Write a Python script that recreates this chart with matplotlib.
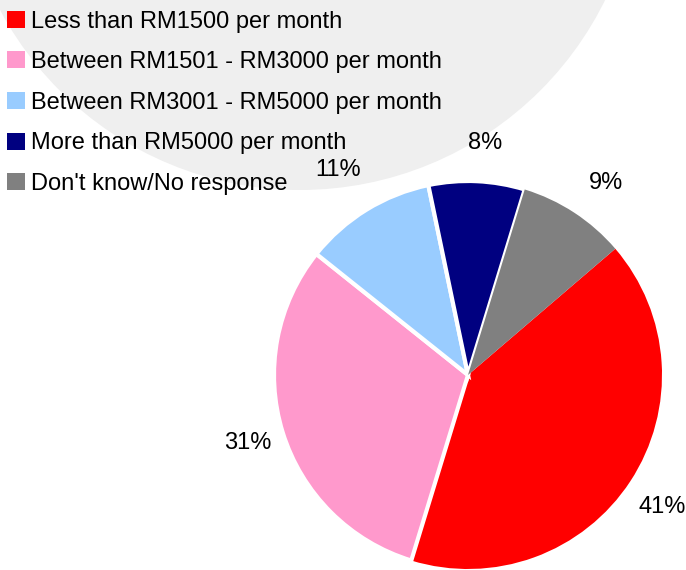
import matplotlib
matplotlib.use("Agg")
import matplotlib.pyplot as plt
import numpy as np
from matplotlib.patches import Circle, Patch

plt.rcParams['font.family'] = ['Liberation Sans', 'DejaVu Sans']

# данные
labels = ['Less than RM1500 per month',
          'Between RM1501 - RM3000 per month',
          'Between RM3001 - RM5000 per month',
          'More than RM5000 per month',
          "Don't know/No response"]
shares = [41, 31, 11, 8, 9]
colors = ['#ff0000', '#ff99cc', '#99ccff', '#000080', '#808080']

# подписи процентов: расстояние от центра и сдвиг по углу (градусы)
label_dist = [1.21, 1.19, 1.25, 1.20, 1.22]
label_shift = [-1.0, 0.0, 0.8, -1.6, -2.4]

W, H = 686, 570
fig = plt.figure(figsize=(W / 100, H / 100), dpi=100)

# светло-серый водяной знак на фоне
bg = fig.add_axes([0, 0, 1, 1])
bg.set_xlim(0, W)
bg.set_ylim(H, 0)
bg.axis('off')
bg.add_patch(Circle((300, -150), 340, color='#efefef', lw=0))

# круговая диаграмма: центр (468, 375) px, радиус 194 px
cx, cy, r = 468, 375, 194
lim = 1.25
ax = fig.add_axes([(cx - lim * r) / W, (H - cy - lim * r) / H,
                   2 * lim * r / W, 2 * lim * r / H])
start = 40.6
wedges, _ = ax.pie(shares, colors=colors, startangle=start,
                   counterclock=False,
                   wedgeprops=dict(edgecolor='white', linewidth=3))
ax.set_xlim(-lim, lim)
ax.set_ylim(-lim, lim)
wedges[0].set_linewidth(0)
wedges[4].set_linewidth(0)

# проценты
total = sum(shares)
acc = 0
for s, d, sh in zip(shares, label_dist, label_shift):
    mid = np.deg2rad(start - (acc + s / 2) / total * 360 + sh)
    acc += s
    ax.text(d * np.cos(mid), d * np.sin(mid), f'{s}%', fontsize=17,
            ha='center', va='center')

# легенда с квадратными маркерами
handles = [Patch(facecolor=c, edgecolor='none') for c in colors]
fig.legend(handles, labels, loc='upper left', bbox_to_anchor=(0.0, 0.994),
           frameon=False, fontsize=17, handlelength=0.76, handleheight=0.72,
           handletextpad=0.25, labelspacing=0.79, borderaxespad=0.1,
           borderpad=0.2)

fig.savefig('out.png', dpi=100)
